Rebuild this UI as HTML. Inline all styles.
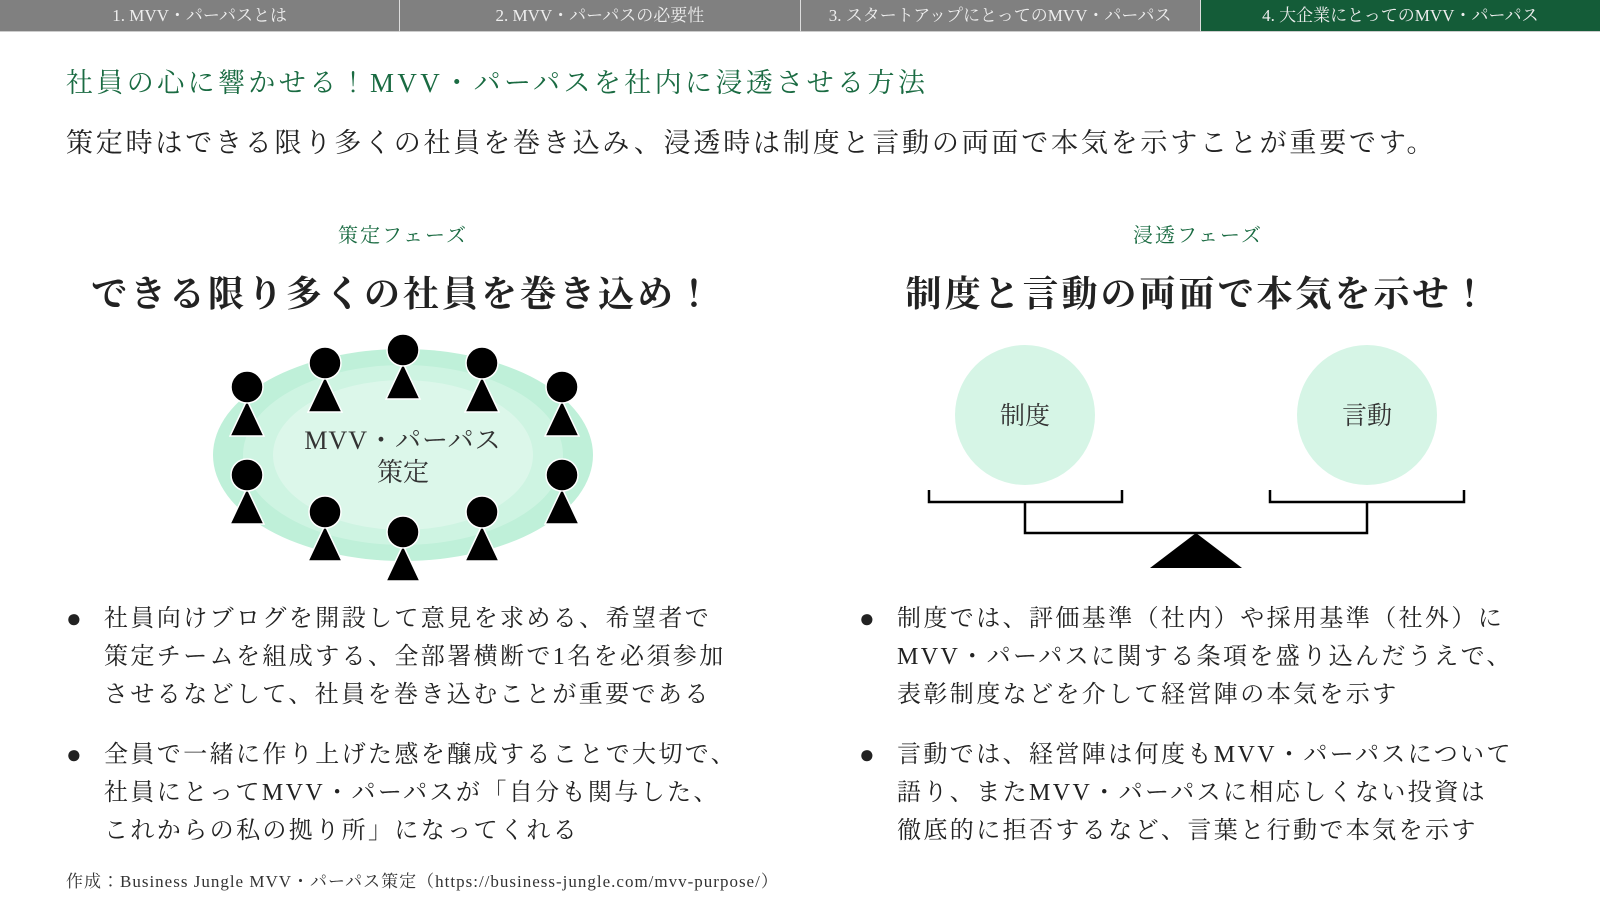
<!DOCTYPE html>
<html><head><meta charset="utf-8"><style>
*{margin:0;padding:0;box-sizing:border-box}
body{width:1600px;height:900px;background:#fff;position:relative;overflow:hidden;font-family:"Liberation Serif","Noto Serif CJK JP","Noto Serif CJK SC",serif;color:#222}
.tabs{position:absolute;left:0;top:0;width:1600px;height:32px;display:flex}
.tab{flex:1;background:#808080;color:#eee;font-size:17px;text-align:center;line-height:31px;border-right:1px solid #ddd;border-bottom:1px solid #ccc}
.tab.on{background:#145c38;border-right:none}
.a{position:absolute;white-space:nowrap}
.g{color:#1a6b42}
.bl{position:absolute;font-size:24px;line-height:38px;letter-spacing:2.4px;white-space:nowrap}
.bl .d{position:absolute;left:-38px;top:0;font-size:26px}
</style></head><body>
<div class="tabs"><div class="tab">1. MVV・パーパスとは</div><div class="tab">2. MVV・パーパスの必要性</div><div class="tab">3. スタートアップにとってのMVV・パーパス</div><div class="tab on">4. 大企業にとってのMVV・パーパス</div></div>
<div class="a g" style="left:66px;top:61px;font-size:27px;letter-spacing:3.4px">社員の心に響かせる！MVV・パーパスを社内に浸透させる方法</div>
<div class="a" style="left:66px;top:121px;font-size:27px;letter-spacing:2.8px">策定時はできる限り多くの社員を巻き込み、浸透時は制度と言動の両面で本気を示すことが重要です。</div>
<div class="a g" style="left:0;width:806px;text-align:center;top:219px;font-size:20px;letter-spacing:2px">策定フェーズ</div>
<div class="a g" style="left:795px;width:806px;text-align:center;top:219px;font-size:20px;letter-spacing:2px">浸透フェーズ</div>
<div class="a" style="left:0;width:806px;text-align:center;top:266px;font-size:36px;letter-spacing:3px;font-weight:bold">できる限り多くの社員を巻き込め！</div>
<div class="a" style="left:795px;width:806px;text-align:center;top:266px;font-size:36px;letter-spacing:3px;font-weight:bold">制度と言動の両面で本気を示せ！</div>
<svg class="a" style="left:0;top:0" width="1600" height="900">
<ellipse cx="403" cy="455" rx="190" ry="106" fill="#bff0d9"/>
<ellipse cx="403" cy="455" rx="160" ry="90" fill="#cef4e2"/>
<ellipse cx="403" cy="455" rx="130" ry="75" fill="#dcf7ea"/>
<g fill="#000" stroke="#fff" stroke-width="1.5">
<g transform="translate(247,387)"><polygon points="0,13 -17,49 17,49"/><circle r="16"/></g>
<g transform="translate(325,363)"><polygon points="0,13 -17,49 17,49"/><circle r="16"/></g>
<g transform="translate(403,350)"><polygon points="0,13 -17,49 17,49"/><circle r="16"/></g>
<g transform="translate(482,363)"><polygon points="0,13 -17,49 17,49"/><circle r="16"/></g>
<g transform="translate(562,387)"><polygon points="0,13 -17,49 17,49"/><circle r="16"/></g>
<g transform="translate(247,475)"><polygon points="0,13 -17,49 17,49"/><circle r="16"/></g>
<g transform="translate(325,512)"><polygon points="0,13 -17,49 17,49"/><circle r="16"/></g>
<g transform="translate(403,532)"><polygon points="0,13 -17,49 17,49"/><circle r="16"/></g>
<g transform="translate(482,512)"><polygon points="0,13 -17,49 17,49"/><circle r="16"/></g>
<g transform="translate(562,475)"><polygon points="0,13 -17,49 17,49"/><circle r="16"/></g>
</g>
<text x="403" y="449" text-anchor="middle" font-size="26" letter-spacing="1" fill="#333" font-family="Liberation Serif,Noto Serif CJK JP,serif">MVV・パーパス</text>
<text x="403" y="481" text-anchor="middle" font-size="26" fill="#333" font-family="Liberation Serif,Noto Serif CJK JP,serif">策定</text>
<circle cx="1025" cy="415" r="70" fill="#d6f5e6"/>
<circle cx="1367" cy="415" r="70" fill="#d6f5e6"/>
<text x="1025" y="424" text-anchor="middle" font-size="25" fill="#333" font-family="Liberation Serif,Noto Serif CJK JP,serif">制度</text>
<text x="1367" y="424" text-anchor="middle" font-size="25" fill="#333" font-family="Liberation Serif,Noto Serif CJK JP,serif">言動</text>
<g fill="none" stroke="#000" stroke-width="2.5">
<polyline points="929,490 929,502 1122,502 1122,490"/>
<polyline points="1270,490 1270,502 1464,502 1464,490"/>
<polyline points="1025,502 1025,533 1367,533 1367,502"/>
</g>
<polygon points="1196,533 1150,568 1242,568" fill="#000"/>
</svg>
<div class="bl" style="left:104px;top:600px"><span class="d">●</span>社員向けブログを開設して意見を求める、希望者で<br>策定チームを組成する、全部署横断で1名を必須参加<br>させるなどして、社員を巻き込むことが重要である</div>
<div class="bl" style="left:104px;top:736px"><span class="d">●</span>全員で一緒に作り上げた感を醸成することで大切で、<br>社員にとってMVV・パーパスが「自分も関与した、<br>これからの私の拠り所」になってくれる</div>
<div class="bl" style="left:897px;top:600px"><span class="d">●</span>制度では、評価基準（社内）や採用基準（社外）に<br>MVV・パーパスに関する条項を盛り込んだうえで、<br>表彰制度などを介して経営陣の本気を示す</div>
<div class="bl" style="left:897px;top:736px"><span class="d">●</span>言動では、経営陣は何度もMVV・パーパスについて<br>語り、またMVV・パーパスに相応しくない投資は<br>徹底的に拒否するなど、言葉と行動で本気を示す</div>
<div class="a" style="left:66px;top:867px;font-size:17px;letter-spacing:1px;color:#333">作成：Business Jungle MVV・パーパス策定（https://business-jungle.com/mvv-purpose/）</div>
</body></html>
